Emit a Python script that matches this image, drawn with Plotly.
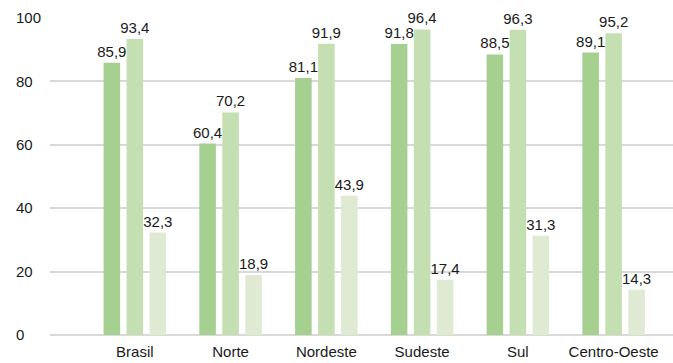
import plotly.graph_objects as go

# Regions and the three indicator series (percent)
regioes = ["Brasil", "Norte", "Nordeste", "Sudeste", "Sul", "Centro-Oeste"]
serie_a = [85.9, 60.4, 81.1, 91.8, 88.5, 89.1]
serie_b = [93.4, 70.2, 91.9, 96.4, 96.3, 95.2]
serie_c = [32.3, 18.9, 43.9, 17.4, 31.3, 14.3]

y_ticks = [0, 20, 40, 60, 80, 100]
# Pad with figure spaces so the right-aligned tick labels start at the same x
y_tick_text = [str(v) + "\u2007" * (3 - len(str(v))) for v in y_ticks]

cores = ["#a5d08f", "#c4dfb1", "#dfead3"]
font_family = "Liberation Sans, Arial, sans-serif"

fig = go.Figure()
for valores, cor in zip([serie_a, serie_b, serie_c], cores):
    fig.add_trace(go.Bar(
        x=regioes,
        y=valores,
        marker=dict(color=cor, line=dict(width=0)),
        texttemplate="%{y:.1f}",
        textposition="outside",
        constraintext="none",
        cliponaxis=False,
        textfont=dict(family=font_family, size=15, color="#1a1a1a"),
        showlegend=False,
    ))

fig.update_layout(
    width=673,
    height=363,
    margin=dict(l=50, r=0, t=18, b=28),
    paper_bgcolor="white",
    plot_bgcolor="white",
    barmode="group",
    bargap=0.28,
    bargroupgap=0.28,
    separators=",.",
    font=dict(family=font_family, size=14, color="#1a1a1a"),
)
fig.update_xaxes(
    type="category",
    range=[-0.886, 5.62],
    showgrid=False,
    showline=False,
    ticks="",
    ticklabelstandoff=6,
    tickfont=dict(family=font_family, size=15, color="#1a1a1a"),
)
fig.update_yaxes(
    range=[0, 100],
    tickvals=y_ticks,
    ticktext=y_tick_text,
    showgrid=True,
    gridcolor="#d9d9d9",
    gridwidth=1.5,
    zeroline=True,
    zerolinecolor="#d9d9d9",
    zerolinewidth=1.5,
    showline=False,
    ticks="",
    ticklabelstandoff=8,
    tickfont=dict(family=font_family, size=15, color="#1a1a1a"),
)

fig.write_html("out.html")
